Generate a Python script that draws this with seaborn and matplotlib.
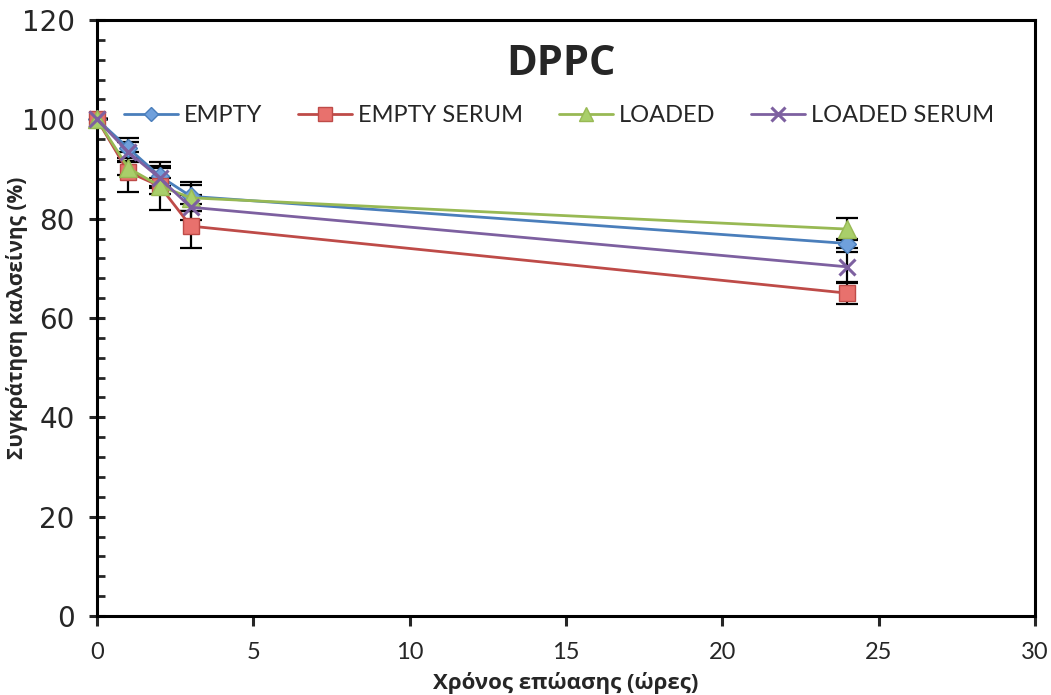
import numpy as np
import pandas as pd
import matplotlib
matplotlib.use("Agg")
import matplotlib.pyplot as plt
import seaborn as sns
from matplotlib.ticker import MultipleLocator

# ---- data ----
hours = [0, 1, 2, 3, 24]
series_names = ["EMPTY", "EMPTY SERUM", "LOADED", "LOADED SERUM"]
empty = [100, 94.2, 88.6, 84.5, 75.0]
empty_serum = [100, 89.4, 86.6, 78.5, 65.0]
loaded = [100, 90.2, 86.6, 84.2, 77.9]
loaded_serum = [100, 93.4, 88.2, 82.3, 70.3]
empty_err = [0, 2.0, 2.0, 2.9, 0.9]
empty_serum_err = [0, 4.0, 4.9, 4.4, 2.1]
loaded_err = [0, 1.5, 1.6, 2.6, 2.2]
loaded_serum_err = [0, 2.0, 2.0, 2.5, 3.0]

values = [empty, empty_serum, loaded, loaded_serum]
errors = [empty_err, empty_serum_err, loaded_err, loaded_serum_err]

df = pd.DataFrame({
    "hours": hours * 4,
    "value": empty + empty_serum + loaded + loaded_serum,
    "series": [s for s in series_names for _ in hours],
})

line_colors = ["#4A7EBB", "#BE4B48", "#98B954", "#7D60A0"]
fill_colors = ["#6FA0DC", "#E8716D", "#A9CF6A", "#8C70B0"]
markers = ["D", "s", "^", "x"]
msizes = [9, 12, 13, 12]

sns.set_style("ticks")
plt.rcParams["font.family"] = ["DejaVu Sans"]

fig = plt.figure(figsize=(10.51, 6.95), dpi=100)
ax = fig.add_axes([0.0923, 0.1137, 0.8925, 0.8575])

for i, name in enumerate(series_names):
    ax.errorbar(hours, values[i], yerr=errors[i], fmt="none", ecolor="black",
                elinewidth=1.6, capsize=8, capthick=1.6, zorder=2)

for i, name in enumerate(series_names):
    sub = df[df["series"] == name]
    kw = dict(marker=markers[i], markersize=msizes[i], markerfacecolor=fill_colors[i],
              markeredgecolor=line_colors[i], markeredgewidth=1.0 if markers[i] != "x" else 2.2)
    sns.lineplot(data=sub, x="hours", y="value", ax=ax, color=line_colors[i],
                 linewidth=2.0, label=name, zorder=3 + i, clip_on=False, **kw)

ax.set_xlim(0, 30)
ax.set_ylim(0, 120)
ax.xaxis.set_major_locator(MultipleLocator(5))
ax.yaxis.set_major_locator(MultipleLocator(20))
ax.yaxis.set_minor_locator(MultipleLocator(4))

for sp in ax.spines.values():
    sp.set_linewidth(2.2)
    sp.set_color("black")

ax.tick_params(axis="y", which="major", direction="inout", length=12, width=2.2,
               labelsize=20, pad=10)
ax.tick_params(axis="y", which="minor", direction="in", length=6, width=2.0)
ax.tick_params(axis="x", which="major", direction="out", length=7, width=2.2,
               labelsize=17, pad=12)
for lab in ax.get_xticklabels():
    lab.set_family("Lato")

ax.set_xlabel("Χρόνος επώασης (ώρες)", fontsize=16, fontweight="bold",
              family="Open Sans", labelpad=6)
ax.set_ylabel("Συγκράτηση καλσείνης (%)", fontsize=15, fontweight="bold",
              family="Open Sans")
ax.yaxis.set_label_coords(-0.074, 0.5)

ax.text(0.495, 0.925, "DPPC", transform=ax.transAxes, ha="center", va="center",
        fontsize=30, fontweight="bold", family="Open Sans")

leg = ax.legend(loc="center", bbox_to_anchor=(0.4925, 0.839), ncol=4, frameon=False,
                handlelength=2.3, columnspacing=1.5, handletextpad=0.25,
                prop={"family": "Lato", "size": 17}, markerscale=0.8)

fig.savefig("out.png", dpi=100)
